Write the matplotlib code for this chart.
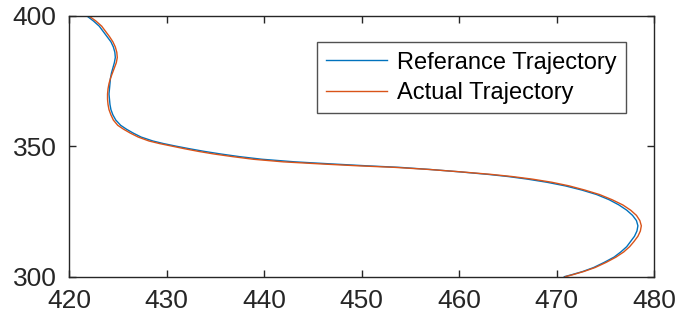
import matplotlib
matplotlib.use('Agg')
import matplotlib.pyplot as plt

# Trajektoria referencyjna
ref_x = [421.8, 422.5, 423.1, 423.5, 423.9, 424.3, 424.55, 424.7, 424.75, 424.65,
         424.5, 424.35, 424.25, 424.2, 424.15, 424.1, 424.15, 424.2, 424.3, 424.5,
         424.8, 425.3, 425.9, 426.6, 427.4, 428.6, 429.7, 431.0, 432.4, 433.9,
         435.6, 437.5, 439.8, 443.2, 447.0, 450.5, 453.9, 457.0, 460.0, 463.0,
         465.0, 467.0, 469.0, 470.9, 472.6, 474.1, 475.4, 476.4, 477.2, 477.8,
         478.2, 478.35, 478.25, 478.0, 477.6, 477.2, 476.6, 475.9, 474.9, 473.8,
         472.7, 471.6, 470.8]
ref_y = [400.0, 398.0, 396.0, 394.0, 392.0, 390.0, 388.0, 386.0, 384.0, 382.0,
         380.0, 378.0, 376.0, 374.0, 372.0, 370.0, 368.0, 366.0, 364.0, 362.0,
         360.0, 358.0, 356.5, 355.0, 353.5, 352.0, 351.0, 350.0, 349.0, 348.0,
         347.0, 346.0, 345.0, 344.0, 343.2, 342.5, 341.9, 341.1, 340.2, 339.2,
         338.4, 337.4, 336.2, 334.8, 333.2, 331.5, 329.5, 327.5, 325.5, 323.5,
         321.5, 319.5, 317.5, 315.5, 313.5, 311.5, 309.5, 307.5, 305.5, 303.5,
         302.0, 300.8, 300.0]

# Trajektoria rzeczywista
act_x = [422.0, 422.75, 423.35, 423.75, 424.15, 424.5, 424.75, 424.9, 424.95, 424.85,
         424.65, 424.45, 424.25, 424.1, 424.0, 423.95, 423.95, 424.0, 424.1, 424.3,
         424.55, 425.0, 425.6, 426.3, 427.1, 428.2, 429.3, 430.6, 431.9, 433.3,
         434.9, 436.8, 438.9, 442.0, 445.9, 449.6, 453.4, 456.9, 460.1, 463.3,
         465.4, 467.5, 469.5, 471.3, 472.9, 474.4, 475.7, 476.8, 477.6, 478.2,
         478.55, 478.7, 478.6, 478.35, 477.95, 477.5, 476.9, 476.1, 475.1, 473.95,
         472.8, 471.7, 470.9]
act_y = [400.0, 398.0, 396.0, 394.0, 392.0, 390.0, 388.0, 386.0, 384.0, 382.0,
         380.0, 378.0, 376.0, 374.0, 372.0, 370.0, 368.0, 366.0, 364.0, 362.0,
         360.0, 358.0, 356.5, 355.0, 353.5, 352.0, 351.0, 350.0, 349.0, 348.0,
         347.0, 346.0, 345.0, 344.0, 343.2, 342.5, 341.9, 341.1, 340.2, 339.2,
         338.4, 337.4, 336.2, 334.8, 333.2, 331.5, 329.5, 327.5, 325.5, 323.5,
         321.5, 319.5, 317.5, 315.5, 313.5, 311.5, 309.5, 307.5, 305.5, 303.5,
         302.0, 300.8, 300.0]

x_ticks = [420, 430, 440, 450, 460, 470, 480]
y_ticks = [300, 350, 400]

plt.rcParams['font.family'] = ['Liberation Sans', 'DejaVu Sans']

fig = plt.figure(figsize=(6.78, 3.21), dpi=100)
ax = fig.add_axes([0.1018, 0.138, 0.8628, 0.813])

ax.plot(ref_x, ref_y, color='#0072BD', lw=1.0, label='Referance Trajectory')
ax.plot(act_x, act_y, color='#D95319', lw=1.0, label='Actual Trajectory')

ax.set_xlim(420, 480)
ax.set_ylim(300, 400)
ax.set_xticks(x_ticks)
ax.set_yticks(y_ticks)

for s in ax.spines.values():
    s.set_color('#262626')
    s.set_linewidth(1.0)
ax.tick_params(direction='in', length=5, width=1.0, color='#262626',
               labelsize=19, labelcolor='#262626', pad=9,
               top=True, right=True)

leg = ax.legend(loc='upper right', bbox_to_anchor=(0.952, 0.899), borderaxespad=0,
                fontsize=17, frameon=True, fancybox=False, handlelength=2.6,
                handletextpad=0.4, borderpad=0.4, labelspacing=0.35)
leg.get_frame().set_edgecolor('#262626')
leg.get_frame().set_linewidth(1.0)

fig.savefig('out.png', dpi=100)
